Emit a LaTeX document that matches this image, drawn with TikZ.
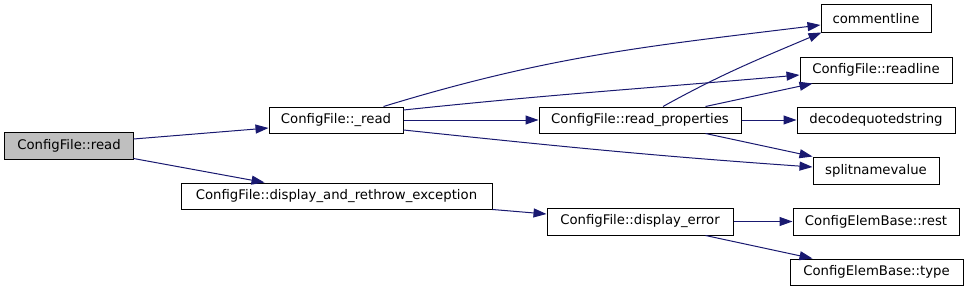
\documentclass[tikz,border=0pt]{standalone}
\usepackage{fontspec}
\setmainfont{DejaVu Sans}
\usetikzlibrary{arrows.meta,calc}
\definecolor{edgeblue}{RGB}{25,25,112}
\definecolor{rootgray}{RGB}{191,191,191}
\begin{document}
\begin{tikzpicture}[x=1bp,y=1bp,
  fn/.style={draw=black,line width=1bp,inner sep=0pt,font=\fontsize{13.3}{16}\selectfont,fill=white},
  call/.style={draw=edgeblue,line width=1bp,-{Triangle[length=13bp,width=9bp]}}]
\useasboundingbox (0,0) rectangle (968,291);
\node[fn,fill=rootgray,minimum width=128bp,minimum height=27bp] (read) at (69,145.5) {ConfigFile::read};
\node[fn,minimum width=134bp,minimum height=26bp] (uread) at (336,171) {ConfigFile::\_read};
\node[fn,minimum width=311bp,minimum height=26bp] (rethrow) at (336.5,95) {ConfigFile::display\_and\_rethrow\_exception};
\node[fn,minimum width=110bp,minimum height=27bp] (comment) at (876,272.5) {commentline};
\node[fn,minimum width=152bp,minimum height=26bp] (readline) at (876,221) {ConfigFile::readline};
\node[fn,minimum width=202bp,minimum height=26bp] (props) at (640,171) {ConfigFile::read\_properties};
\node[fn,minimum width=158bp,minimum height=26bp] (decode) at (876,171) {decodequotedstring};
\node[fn,minimum width=126bp,minimum height=27bp] (split) at (876,120.5) {splitnamevalue};
\node[fn,minimum width=186bp,minimum height=27bp] (disperr) at (640,69.5) {ConfigFile::display\_error};
\node[fn,minimum width=166bp,minimum height=27bp] (rest) at (876,69.5) {ConfigElemBase::rest};
\node[fn,minimum width=173bp,minimum height=26bp] (type) at (876.5,19) {ConfigElemBase::type};

\draw[call] ([yshift=6.5bp]read.east) -- ([yshift=-8bp]uread.west);
\draw[call] ([yshift=1bp]read.south east) -- ([xshift=84bp]rethrow.north west);
\draw[call] ([xshift=-20bp]uread.north east) to[out=17,in=187] ([yshift=-6.5bp]comment.west);
\draw[call] ([yshift=10bp]uread.east) to[out=6,in=185] ([yshift=-5bp]readline.west);
\draw[call] (uread.east) -- (props.west);
\draw[call] ([yshift=-10bp]uread.east) to[out=-6,in=176] ([yshift=3.5bp]split.west);
\draw[call] ([xshift=23bp]props.north) to[out=29,in=203] ([xshift=1bp]comment.south west);
\draw[call] ([xshift=-36bp]props.north east) -- ([xshift=13bp]readline.south west);
\draw[call] (props.east) -- (decode.west);
\draw[call] ([xshift=-36bp]props.south east) -- (split.north west);
\draw[call] (rethrow.south east) -- ([yshift=7.5bp]disperr.west);
\draw[call] (disperr.east) -- (rest.west);
\draw[call] ([xshift=-28bp]disperr.south east) -- ([xshift=23bp]type.north west);
\end{tikzpicture}
\end{document}
